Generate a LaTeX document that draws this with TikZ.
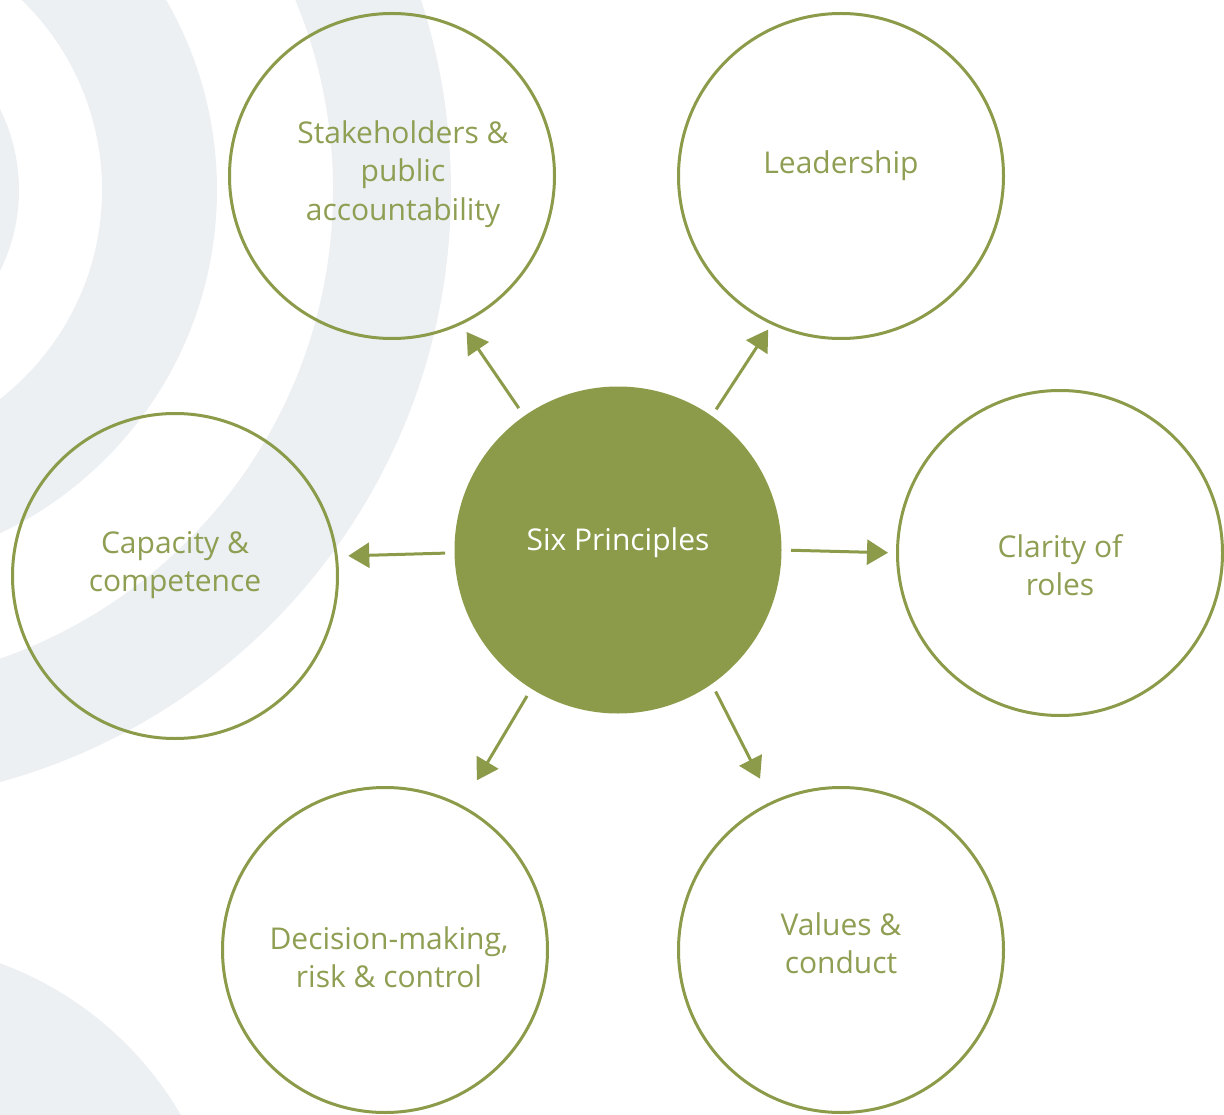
\documentclass[tikz,border=0pt]{standalone}
\usepackage{fontspec}
\setmainfont{Open Sans}
\usetikzlibrary{arrows.meta}

\definecolor{principlegreen}{HTML}{8B9B4A}
\definecolor{principletext}{HTML}{8E9E52}
\definecolor{ringgray}{HTML}{ECF0F3}

\tikzset{
	principle/.style={circle, draw=principlegreen, line width=3pt, minimum size=325pt, inner sep=0pt, outer sep=0pt},
	core/.style={circle, fill=principlegreen, minimum size=327pt, inner sep=0pt, outer sep=0pt},
	caption/.style={text=principletext, align=center, font=\fontsize{30}{38.5}\selectfont},
	flow/.style={draw=principlegreen, line width=3pt, -{Triangle[length=21pt,width=25pt]}}
}

\begin{document}
\begin{tikzpicture}[x=1pt, y=-1pt]
	\useasboundingbox (0,0) rectangle (1224,1115);

	% Background rings
	\begin{scope}
		\clip (0,0) rectangle (1224,1115);
		\fill[ringgray] (-163,190) circle (182pt);
		\draw[ringgray, line width=115pt] (-163,190) circle (322.5pt);
		\draw[ringgray, line width=118pt] (-163,190) circle (555pt);
		\fill[ringgray] (-120,1290) circle (348pt);
	\end{scope}

	% Centre
	\node[core, label={[caption, text=white, yshift=7pt]center:Six Principles}] (six) at (618,550) {};

	% Principles
	\node[principle, label={[caption, xshift=11pt, yshift=2pt]center:Stakeholders \&\\public\\accountability}] (stake) at (392,176) {};
	\node[principle, label={[caption, yshift=10pt]center:Leadership}] (lead) at (841,176) {};
	\node[principle, label={[caption, yshift=11pt]center:Capacity \&\\competence}] (capa) at (175,576) {};
	\node[principle, label={[caption, yshift=-12pt]center:Clarity of\\roles}] (clar) at (1060,553) {};
	\node[principle, label={[caption, xshift=4pt, yshift=-7pt]center:Decision-making,\\risk \& control}] (deci) at (385,950) {};
	\node[principle, label={[caption, yshift=7pt]center:Values \&\\conduct}] (valu) at (841,950) {};

	% Arrows
	\draw[flow, shorten <=9.6pt, shorten >=10.5pt] (six.125.8) -- (stake.-65.8);
	\draw[flow, shorten <=8pt, shorten >=7.5pt] (six.55.5) -- (lead.-115.1);
	\draw[flow, shorten <=9.5pt, shorten >=12pt] (six.181.7) -- (capa.7.6);
	\draw[flow, shorten <=9.5pt, shorten >=9.5pt] (six.0) -- (clar.180);
	\draw[flow, shorten <=8.5pt, shorten >=30.5pt] (six.238.8) -- (deci.62.6);
	\draw[flow, shorten <=8.5pt, shorten >=27pt] (six.-55.9) -- (valu.115.2);
\end{tikzpicture}
\end{document}
